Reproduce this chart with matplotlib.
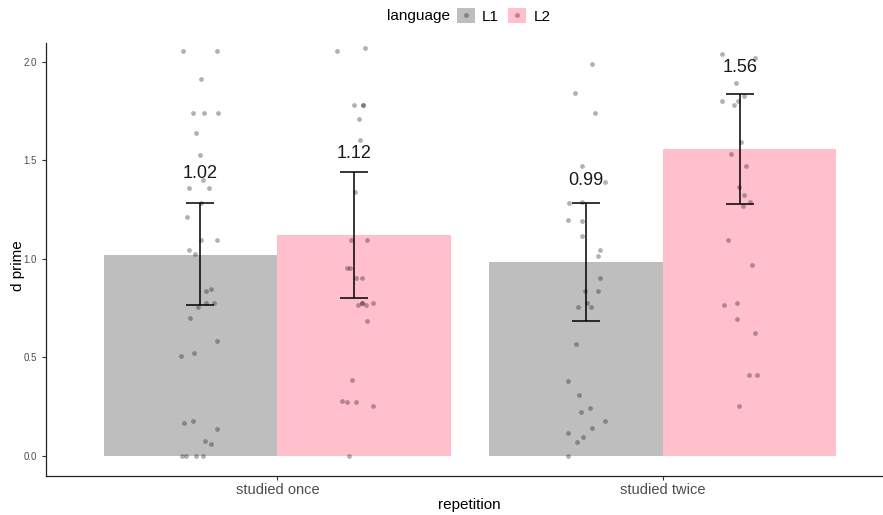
import matplotlib

matplotlib.use("Agg")
import matplotlib.pyplot as plt
from matplotlib.lines import Line2D
from matplotlib.patches import Patch

plt.rcParams["font.family"] = ["Liberation Sans", "DejaVu Sans"]

# summary values per condition
repetition = ["studied once", "studied twice"]
languages = ["L1", "L2"]
means = {"L1": [1.020, 0.985], "L2": [1.121, 1.558]}
ci_low = {"L1": [0.765, 0.685], "L2": [0.799, 1.278]}
ci_high = {"L1": [1.281, 1.282], "L2": [1.442, 1.839]}
mean_labels = {"L1": ["1.02", "0.99"], "L2": ["1.12", "1.56"]}

# raw participant scores (read from the jittered points) and their jitter offsets
once_l1_y = [2.057, 2.056, 1.912, 1.741, 1.741, 1.741, 1.641, 1.526, 1.398, 1.362, 1.362,
             1.281, 1.212, 1.093, 1.093, 1.046, 1.024, 0.839, 0.848, 0.775, 0.775, 0.755,
             0.699, 0.585, 0.504, 0.521, 0.166, 0.174, 0.137, 0.074, 0.061, 0.0, 0.0, 0.0, 0.0]
once_l1_jit = [-0.044, 0.044, 0.002, -0.018, 0.011, 0.047, -0.010, 0.0, 0.007, -0.028, 0.023,
               0.003, -0.034, 0.001, 0.044, -0.028, -0.014, 0.015, 0.028, 0.016, 0.037, -0.005,
               -0.026, 0.043, -0.049, -0.016, -0.041, -0.019, 0.044, 0.013, 0.028,
               -0.047, -0.038, -0.010, 0.006]
once_l2_y = [2.054, 2.073, 1.782, 1.782, 1.782, 1.709, 1.604, 1.337, 1.093, 1.093, 0.954, 0.954,
             0.904, 0.904, 0.778, 0.778, 0.763, 0.763, 0.778, 0.682, 0.384, 0.279, 0.271,
             0.271, 0.252, 0.0]
once_l2_jit = [-0.044, 0.028, -0.002, 0.023, 0.023, 0.012, 0.015, 0.002, -0.008, 0.033, -0.018,
               -0.011, 0.005, 0.020, 0.020, 0.020, 0.008, 0.031, 0.047, 0.032, -0.006, -0.031,
               -0.019, 0.003, 0.049, -0.015]
twice_l1_y = [1.988, 1.844, 1.741, 1.470, 1.389, 1.281, 1.288, 1.196, 1.193, 1.117, 1.047, 1.015,
              0.902, 0.839, 0.839, 0.778, 0.755, 0.755, 0.569, 0.377, 0.310, 0.242, 0.223,
              0.174, 0.139, 0.113, 0.093, 0.068, 0.0]
twice_l1_jit = [0.016, -0.028, 0.023, -0.011, 0.049, -0.043, -0.009, -0.045, -0.009, -0.009,
                0.036, 0.032, 0.037, -0.003, 0.033, 0.003, -0.020, 0.013, -0.024, -0.045,
                -0.017, 0.012, -0.012, 0.049, 0.016, -0.045, -0.006, -0.023, -0.047]
twice_l2_y = [2.042, 2.020, 1.895, 1.802, 1.802, 1.782, 1.829, 1.591, 1.531, 1.472, 1.364, 1.325,
              1.288, 1.267, 1.093, 0.968, 0.763, 0.775, 0.694, 0.624, 0.408, 0.408, 0.252]
twice_l2_jit = [-0.046, 0.038, -0.010, -0.046, -0.005, -0.015, 0.011, 0.002, -0.022, 0.015,
                -0.002, 0.010, 0.026, 0.008, -0.032, 0.032, -0.041, -0.008, -0.008, 0.038,
                0.024, 0.045, -0.003]

raw = {
    ("L1", 0): (once_l1_jit, once_l1_y),
    ("L2", 0): (once_l2_jit, once_l2_y),
    ("L1", 1): (twice_l1_jit, twice_l1_y),
    ("L2", 1): (twice_l2_jit, twice_l2_y),
}

colors = {"L1": "#BEBEBE", "L2": "#FFC0CB"}

W, H = 883, 515
fig = plt.figure(figsize=(W / 100, H / 100), dpi=100)
ax = fig.add_axes([46 / W, (H - 476) / H, (W - 46) / W, (476 - 43) / H])

x_pos = [1, 2]
bar_w = 0.45
for k, lang in enumerate(languages):
    bar_off = (k - 0.5) * bar_w
    dodge = (k - 0.5) * 0.4
    for i, xc in enumerate(x_pos):
        ax.bar(xc + bar_off, means[lang][i], width=bar_w, color=colors[lang],
               edgecolor="none", zorder=1)
        jit, ys = raw[(lang, i)]
        ax.scatter([xc + dodge + j for j in jit], ys, s=12, color="black", alpha=0.3,
                   linewidths=0, zorder=2)
        m = means[lang][i]
        ax.errorbar(xc + dodge, m, yerr=[[m - ci_low[lang][i]], [ci_high[lang][i] - m]],
                    fmt="none", ecolor="black", elinewidth=1.1, capsize=10, capthick=1.1,
                    zorder=3)
        ax.text(xc + dodge, m + 0.415, mean_labels[lang][i], ha="center", va="center",
                fontsize=13, color="#1a1a1a", zorder=4)

ax.set_xlim(0.4, 2.571)
ax.set_ylim(-0.103, 2.096)
ax.set_xticks(x_pos)
ax.set_xticklabels(repetition)
ax.set_yticks([0.0, 0.5, 1.0, 1.5, 2.0])
ax.set_yticklabels(["0.0", "0.5", "1.0", "1.5", "2.0"])
ax.tick_params(axis="y", labelsize=7, labelcolor="#4D4D4D", color="#333333", length=3, width=0.8)
ax.tick_params(axis="x", labelsize=10.5, labelcolor="#4D4D4D", color="#333333", length=3,
               width=0.8, pad=2)
ax.set_xlabel("repetition", fontsize=11)
ax.xaxis.set_label_coords((469 - 46) / (W - 46), (476 - 505) / (476 - 43))
ax.xaxis.label.set_va("center")
ax.set_ylabel("d prime", fontsize=11)
ax.yaxis.set_label_coords((18 - 46) / (W - 46), (476 - 266) / (476 - 43))
ax.yaxis.label.set_va("center")
for side in ["top", "right"]:
    ax.spines[side].set_visible(False)
for side in ["left", "bottom"]:
    ax.spines[side].set_color("#222222")
    ax.spines[side].set_linewidth(0.9)

handles = [
    (Patch(facecolor=colors[lang], edgecolor="none"),
     Line2D([], [], marker="o", linestyle="none", color="black", alpha=0.3, markersize=3.5,
            markeredgewidth=0))
    for lang in languages
]
fig.legend(handles, languages, loc="center left", bbox_to_anchor=(457 / W, 1 - 16 / H),
           ncol=2, frameon=False, fontsize=11, handlelength=1.15, handleheight=1.15,
           handletextpad=0.5, columnspacing=0.6, borderpad=0, borderaxespad=0)
fig.text(450 / W, 1 - 16 / H, "language", ha="right", va="center", fontsize=11)

fig.savefig("out.png", dpi=100)
